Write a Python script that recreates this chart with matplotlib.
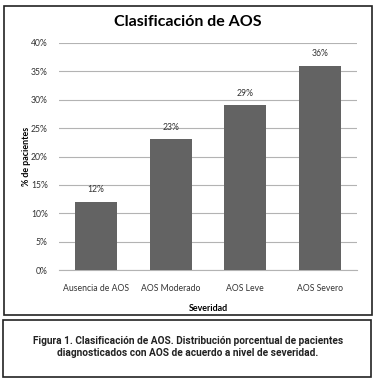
import matplotlib.pyplot as plt
from matplotlib.patches import Rectangle
from matplotlib.ticker import FuncFormatter

categorias = ["Ausencia de AOS", "AOS Moderado", "AOS Leve", "AOS Severo"]
porcentajes = [12, 23, 29, 36]
yticks = [0, 5, 10, 15, 20, 25, 30, 35, 40]

plt.rcParams["font.family"] = ["Lato", "DejaVu Sans"]

W, H = 377, 382
fig = plt.figure(figsize=(W / 100, H / 100), dpi=100)

def px(x0, y0, x1, y1):
    # pixel box (top-left origin) -> figure fraction rect
    return [x0 / W, 1 - y1 / H, (x1 - x0) / W, (y1 - y0) / H]

# marcos
fig.patches.append(Rectangle((4 / W, 1 - 315 / H), 368 / W, 309 / H, transform=fig.transFigure,
                             fill=False, lw=1.2, ec="#222222"))
fig.patches.append(Rectangle((3 / W, 1 - 377 / H), 368 / W, 57 / H, transform=fig.transFigure,
                             fill=False, lw=1.2, ec="#222222"))

ax = fig.add_axes(px(59, 43, 357, 270))
x = range(len(categorias))
bars = ax.bar(x, porcentajes, width=0.56, color="#636363", zorder=3)
ax.set_xlim(-0.5, 3.5)
ax.set_ylim(0, 40)
ax.set_yticks(yticks)
ax.yaxis.set_major_formatter(FuncFormatter(lambda v, p: f"{v:.0f}%"))
ax.set_xticks(list(x))
ax.set_xticklabels(categorias)
ax.grid(axis="y", color="#b3b3b3", lw=0.8, zorder=0)
for s in ["top", "right", "left"]:
    ax.spines[s].set_visible(False)
ax.spines["bottom"].set_color("#b3b3b3")
ax.tick_params(axis="both", length=0, labelsize=6.2, colors="#333333", pad=8)
ax.tick_params(axis="x", pad=10)
for b, v in zip(bars, porcentajes):
    ax.annotate(f"{v}%", (b.get_x() + b.get_width() / 2, v), xytext=(0, 5.5),
                textcoords="offset points", ha="center", va="bottom", fontsize=6.2, color="#333333")

ax.set_xlabel("Severidad", fontsize=6.4, fontweight="bold", labelpad=8)
ax.set_ylabel("% de pacientes", fontsize=6.4, fontweight="bold", labelpad=0)

fig.text(188 / W, 1 - 22 / H, "Clasificación de AOS", ha="center", va="center",
         fontsize=11.5, fontweight="bold")

fig.text(188 / W, 1 - 346.5 / H,
         "Figura 1. Clasificación de AOS. Distribución porcentual de pacientes\n"
         "diagnosticados con AOS de acuerdo a nivel de severidad.",
         ha="center", va="center", fontsize=7.3, fontweight="bold", linespacing=1.25,
         family=["Roboto", "DejaVu Sans"], color="#222222")

fig.savefig("out.png", dpi=100)
